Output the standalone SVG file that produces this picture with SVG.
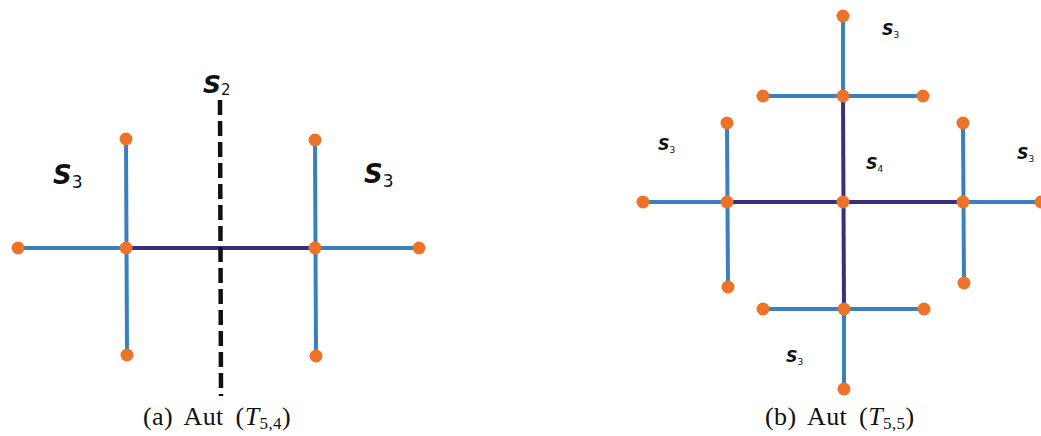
<svg xmlns="http://www.w3.org/2000/svg" width="1041" height="436" viewBox="0 0 1041 436">
<style>
.b{stroke:#3a80be;stroke-width:4;fill:none}
.p{stroke:#3a2e7e;stroke-width:4;fill:none}
.n{fill:#ec7328}
.lbl{font-family:"DejaVu Sans",sans-serif;font-weight:bold;font-style:italic;fill:#111}
.sub{font-family:"DejaVu Sans",sans-serif;font-weight:normal;font-style:normal}
.cap{font-family:"Liberation Serif",serif;font-size:26px;fill:#111;letter-spacing:0.4px}
</style>
<rect width="1041" height="436" fill="#ffffff"/>
<g id="connectors">
<line class="b" x1="18" y1="248" x2="126" y2="248"/>
<line class="b" x1="126" y1="139" x2="127" y2="355"/>
<line class="p" x1="126" y1="248" x2="315" y2="248"/>
<line class="b" x1="315" y1="140" x2="316" y2="356"/>
<line class="b" x1="315" y1="248" x2="419" y2="248"/>
<line x1="220" y1="100" x2="221" y2="396" stroke="#111" stroke-width="4.5" stroke-dasharray="15,6"/>
<line class="b" x1="843" y1="16" x2="843" y2="96"/>
<line class="b" x1="763" y1="96" x2="923" y2="96"/>
<line class="p" x1="843" y1="96" x2="844" y2="309"/>
<line class="p" x1="727" y1="202" x2="963" y2="202"/>
<line class="b" x1="643" y1="202" x2="727" y2="202"/>
<line class="b" x1="727" y1="123" x2="728" y2="287"/>
<line class="b" x1="963" y1="202" x2="1041" y2="202"/>
<line class="b" x1="963" y1="123" x2="964" y2="283"/>
<line class="b" x1="763" y1="309" x2="924" y2="309"/>
<line class="b" x1="844" y1="309" x2="844" y2="389"/>
</g>
<g id="nodes-a">
<circle class="n" cx="18" cy="248" r="6.5"/>
<circle class="n" cx="126" cy="248" r="6.5"/>
<circle class="n" cx="126" cy="139" r="6.5"/>
<circle class="n" cx="127" cy="355" r="6.5"/>
<circle class="n" cx="315" cy="248" r="6.5"/>
<circle class="n" cx="315" cy="140" r="6.5"/>
<circle class="n" cx="316" cy="356" r="6.5"/>
<circle class="n" cx="419" cy="248" r="6.5"/>
</g>
<g id="nodes-b">
<circle class="n" cx="843" cy="16" r="6.5"/>
<circle class="n" cx="843" cy="96" r="6.5"/>
<circle class="n" cx="763" cy="96" r="6.5"/>
<circle class="n" cx="923" cy="96" r="6.5"/>
<circle class="n" cx="843" cy="202" r="6.5"/>
<circle class="n" cx="727" cy="202" r="6.5"/>
<circle class="n" cx="727" cy="123" r="6.5"/>
<circle class="n" cx="728" cy="287" r="6.5"/>
<circle class="n" cx="643" cy="202" r="6.5"/>
<circle class="n" cx="963" cy="202" r="6.5"/>
<circle class="n" cx="963" cy="123" r="6.5"/>
<circle class="n" cx="964" cy="283" r="6.5"/>
<circle class="n" cx="1041" cy="202" r="6.5"/>
<circle class="n" cx="844" cy="309" r="6.5"/>
<circle class="n" cx="763" cy="309" r="6.5"/>
<circle class="n" cx="924" cy="309" r="6.5"/>
<circle class="n" cx="844" cy="389" r="6.5"/>
</g>
<g id="labels">
<text class="lbl" x="203" y="93" font-size="25">S<tspan class="sub" font-size="15" dy="2">2</tspan></text>
<text class="lbl" x="53" y="184" font-size="26">S<tspan class="sub" font-size="17" dy="4">3</tspan></text>
<text class="lbl" x="364" y="183" font-size="26">S<tspan class="sub" font-size="17" dy="4">3</tspan></text>
<text class="lbl" x="882" y="35" font-size="16">S<tspan class="sub" font-size="9" dy="3">3</tspan></text>
<text class="lbl" x="658" y="150" font-size="16">S<tspan class="sub" font-size="9" dy="3">3</tspan></text>
<text class="lbl" x="866" y="169" font-size="16">S<tspan class="sub" font-size="9" dy="3">4</tspan></text>
<text class="lbl" x="1017" y="159" font-size="16">S<tspan class="sub" font-size="9" dy="3">3</tspan></text>
<text class="lbl" x="786" y="362" font-size="16">S<tspan class="sub" font-size="9" dy="3">3</tspan></text>
</g>
<g id="captions">
<text class="cap" x="143" y="425" word-spacing="5">(a) Aut (<tspan font-style="italic">T</tspan><tspan font-size="17" dy="4">5,4</tspan><tspan dy="-4">)</tspan></text>
<text class="cap" x="765" y="425" word-spacing="5">(b) Aut (<tspan font-style="italic">T</tspan><tspan font-size="17" dy="4">5,5</tspan><tspan dy="-4">)</tspan></text>
</g>
</svg>
